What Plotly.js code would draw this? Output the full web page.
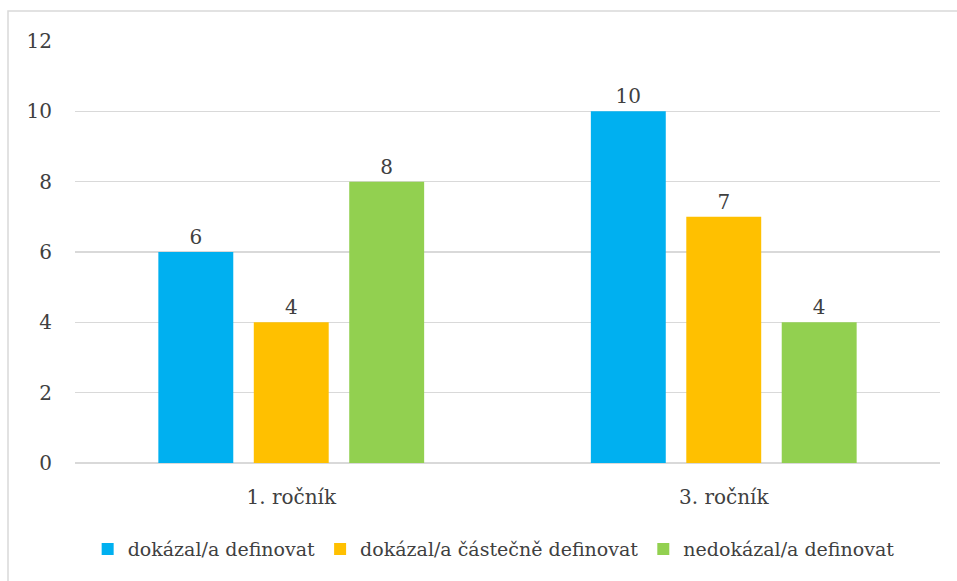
<!DOCTYPE html>
<html>
<head>
<meta charset="utf-8">
<script src="https://cdn.plot.ly/plotly-3.0.1.min.js"></script>
<style>html,body{margin:0;padding:0;background:#fff;}#chart{width:957px;height:581px;}</style>
</head>
<body>
<div id="chart"></div>
<script>
const categories = ["1. ročník", "3. ročník"];
const seriesNames = ["dokázal/a definovat", "dokázal/a částečně definovat", "nedokázal/a definovat"];
const seriesDokazal = [6, 10];
const seriesCastecne = [4, 7];
const seriesNedokazal = [8, 4];
const yTicks = [0, 2, 4, 6, 8, 10, 12];

const colors = ["#00b0f0", "#ffc000", "#92d050"];
const allValues = [seriesDokazal, seriesCastecne, seriesNedokazal];
const fontFam = 'DejaVu Serif';

const traces = allValues.map((vals, i) => ({
  type: 'bar',
  name: seriesNames[i],
  x: categories,
  y: vals,
  text: vals.map(String),
  textposition: 'outside',
  cliponaxis: false,
  textfont: {family: fontFam, size: 20, color: '#404040'},
  marker: {color: colors[i]},
  hoverinfo: 'skip'
}));

const layout = {
  width: 957, height: 581,
  margin: {l: 75, r: 17, t: 41, b: 118, autoexpand: false},
  paper_bgcolor: '#ffffff',
  plot_bgcolor: '#ffffff',
  font: {family: fontFam, color: '#404040'},
  barmode: 'group',
  bargap: 0.338,
  bargroupgap: 0.215,
  showlegend: true,
  legend: {
    orientation: 'h', x: 0.484, xanchor: 'center', y: -0.204, yanchor: 'middle',
    font: {family: fontFam, size: 19, color: '#404040'},
    itemwidth: 30, tracegroupgap: 0
  },
  xaxis: {
    tickfont: {family: fontFam, size: 20, color: '#404040'},
    showline: false, showgrid: false, ticks: '',
    ticklabelstandoff: 20
  },
  yaxis: {
    range: [0, 12], tickvals: yTicks, ticktext: yTicks.map(String),
    tickfont: {family: fontFam, size: 20, color: '#404040'},
    showgrid: true, gridcolor: '#d9d9d9', gridwidth: 1.3,
    zeroline: true, zerolinecolor: '#d9d9d9', zerolinewidth: 1.3,
    showline: false, ticks: '',
    ticklabelstandoff: 22
  },
  shapes: [{
    type: 'rect', xref: 'paper', yref: 'paper',
    x0: -67/865, x1: 1.1, y0: -0.4, y1: 1 + 30/422,
    line: {color: '#d9d9d9', width: 1.5}, fillcolor: 'rgba(0,0,0,0)', layer: 'below'
  }]
};

Plotly.newPlot('chart', traces, layout, {displayModeBar: false, staticPlot: true});
</script>
</body>
</html>
